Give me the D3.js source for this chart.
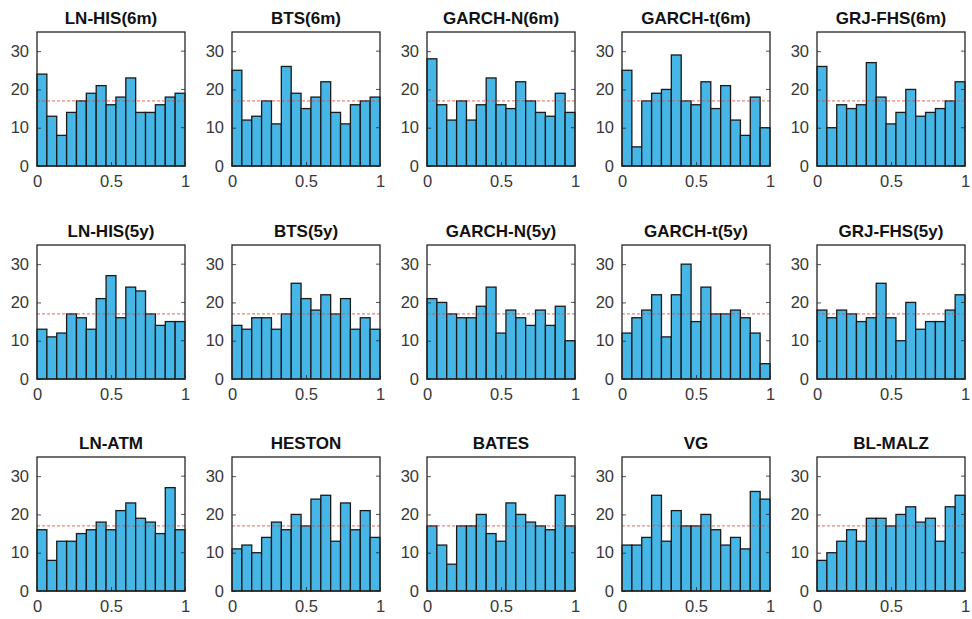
<!DOCTYPE html>
<html><head><meta charset="utf-8">
<script src="https://cdn.jsdelivr.net/npm/d3@7"></script>
<style>body{margin:0;background:#fff;}svg{display:block;}</style>
</head><body>
<svg id="c" width="972" height="619"></svg>
<script>
// ---- data ----
const titles = ["LN-HIS(6m)","BTS(6m)","GARCH-N(6m)","GARCH-t(6m)","GRJ-FHS(6m)",
                "LN-HIS(5y)","BTS(5y)","GARCH-N(5y)","GARCH-t(5y)","GRJ-FHS(5y)",
                "LN-ATM","HESTON","BATES","VG","BL-MALZ"];
const lnHis6m   = [24,13,8,14,17,19,21,16,18,23,14,14,16,18,19];
const bts6m     = [25,12,13,17,11,26,19,15,18,22,14,11,16,17,18];
const garchN6m  = [28,16,12,17,12,16,23,16,15,22,17,14,13,19,14];
const garchT6m  = [25,5,17,19,20,29,17,16,22,15,21,12,8,18,10];
const grjFhs6m  = [26,10,16,15,16,27,18,11,14,20,13,14,15,17,22];
const lnHis5y   = [13,11,12,17,16,13,21,27,16,24,23,17,14,15,15];
const bts5y     = [14,13,16,16,13,17,25,21,18,22,17,21,13,16,13];
const garchN5y  = [21,20,17,16,16,19,24,12,18,16,14,18,14,19,10];
const garchT5y  = [12,16,18,22,11,22,30,15,24,17,17,18,16,12,4];
const grjFhs5y  = [18,16,18,17,15,16,25,16,10,20,13,15,15,18,22];
const lnAtm     = [16,8,13,13,15,16,18,16,21,23,19,18,15,27,16];
const heston    = [11,12,10,14,18,16,20,17,24,25,13,23,16,21,14];
const bates     = [17,12,7,17,17,20,15,13,23,20,18,17,16,25,17];
const vg        = [12,12,14,25,13,21,17,17,20,16,12,14,11,26,24];
const blMalz    = [8,10,13,16,13,19,19,17,20,22,18,19,13,22,25];
const seriesList = [lnHis6m,bts6m,garchN6m,garchT6m,grjFhs6m,lnHis5y,bts5y,garchN5y,garchT5y,grjFhs5y,lnAtm,heston,bates,vg,blMalz];
const expectedCount = 17;
const yTicks = [0,10,20,30];
const xTicks = [0,0.5,1];
const xTickLabels = ["0","0.5","1"];

// ---- layout ----
const colLeft = [37,232,427,622,817];
const rowTop = [32,245,457];
const W = 148, H = 134;
const svg = d3.select("#c");
const barColor = "#45b6e6";

seriesList.forEach((vals, k) => {
  const r = Math.floor(k/5), c = k%5;
  const g = svg.append("g").attr("transform", `translate(${colLeft[c]},${rowTop[r]})`);
  const x = d3.scaleLinear().domain([0,1]).range([0,W]);
  const y = d3.scaleLinear().domain([0,35]).range([H,0]);
  const n = vals.length;
  const bins = vals.map((v,i)=>({x0:i/n, x1:(i+1)/n, v}));

  g.selectAll("rect.bar").data(bins).join("rect")
    .attr("class","bar")
    .attr("x", d=>x(d.x0)).attr("width", d=>x(d.x1)-x(d.x0))
    .attr("y", d=>y(d.v)).attr("height", d=>y(0)-y(d.v))
    .attr("fill", barColor).attr("stroke","#1a1a1a").attr("stroke-width",1.3);

  // expected line
  g.append("line").attr("x1",0).attr("x2",W).attr("y1",y(expectedCount)).attr("y2",y(expectedCount))
    .attr("stroke","#d9504a").attr("stroke-width",1).attr("stroke-dasharray","3,2").attr("opacity",0.85);

  // axes
  const ya = d3.axisLeft(y).tickValues(yTicks).tickFormat(d3.format("d")).tickSize(-4).tickPadding(8);
  const yg = g.append("g").call(ya);
  const xa = d3.axisBottom(x).tickValues(xTicks).tickFormat((d,i)=>xTickLabels[i]).tickSize(-4).tickPadding(9);
  const xg = g.append("g").attr("transform",`translate(0,${H})`).call(xa);
  [yg,xg].forEach(a=>{
    a.select(".domain").remove();
    a.selectAll(".tick line").attr("stroke","#262626").attr("stroke-width",0.8);
    a.selectAll(".tick text").attr("fill","#383838").style("font-family","'Liberation Sans',Arial,sans-serif").style("font-size","16.5px");
  });
  // right-side ticks
  g.selectAll("line.rt").data(yTicks).join("line").attr("class","rt")
    .attr("x1",W).attr("x2",W-4).attr("y1",d=>y(d)).attr("y2",d=>y(d)).attr("stroke","#262626").attr("stroke-width",0.8);
  // box
  g.append("rect").attr("x",0).attr("y",0).attr("width",W).attr("height",H)
    .attr("fill","none").attr("stroke","#262626").attr("stroke-width",1.3);
  // title
  g.append("text").attr("x",W/2).attr("y",-8).attr("text-anchor","middle")
    .style("font-family","'Liberation Sans',Arial,sans-serif").style("font-weight","bold").style("font-size","17px")
    .attr("fill","#111").text(titles[k]);
});
</script>
</body></html>
